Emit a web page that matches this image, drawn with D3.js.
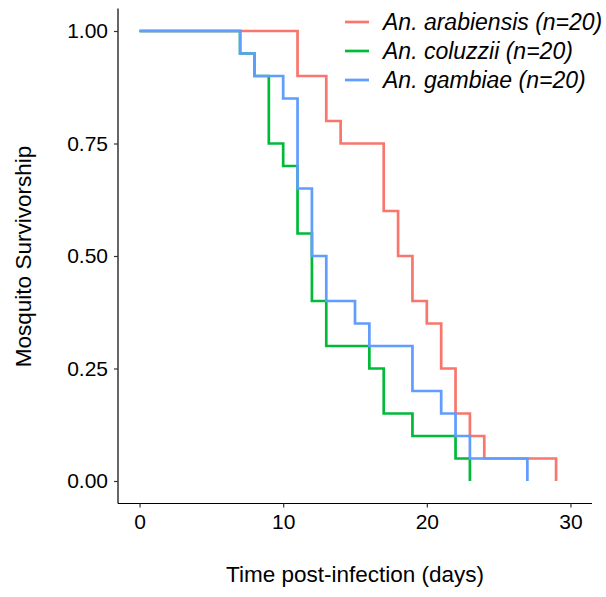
<!DOCTYPE html>
<html><head><meta charset="utf-8">
<script src="https://cdn.jsdelivr.net/npm/d3@7"></script>
<style>body{margin:0;background:#fff;} text{font-family:"Liberation Sans",Arial,sans-serif;}</style>
</head><body>
<svg id="chart" width="606" height="597"></svg>
<script>
const seriesNames = ["An. arabiensis (n=20)", "An. coluzzii (n=20)", "An. gambiae (n=20)"];
const seriesColors = ["#F8766D", "#00BA38", "#619CFF"];
// step times and survival after each step
const arabiensisTime = [0, 11, 13, 14, 17, 18, 19, 20, 21, 22, 23, 24, 29];
const arabiensisSurv = [1.00, 0.90, 0.80, 0.75, 0.60, 0.50, 0.40, 0.35, 0.25, 0.15, 0.10, 0.05, 0.00];
const coluzziiTime = [0, 7, 8, 9, 10, 11, 12, 13, 16, 17, 19, 22, 23];
const coluzziiSurv = [1.00, 0.95, 0.90, 0.75, 0.70, 0.55, 0.40, 0.30, 0.25, 0.15, 0.10, 0.05, 0.00];
const gambiaeTime = [0, 7, 8, 10, 11, 12, 13, 15, 16, 19, 21, 22, 23, 27];
const gambiaeSurv = [1.00, 0.95, 0.90, 0.85, 0.65, 0.50, 0.40, 0.35, 0.30, 0.20, 0.15, 0.10, 0.05, 0.00];
const xTicks = [0, 10, 20, 30];
const yTicks = [0, 0.25, 0.5, 0.75, 1];

const series = [
  {name: seriesNames[0], color: seriesColors[0], t: arabiensisTime, s: arabiensisSurv},
  {name: seriesNames[1], color: seriesColors[1], t: coluzziiTime, s: coluzziiSurv},
  {name: seriesNames[2], color: seriesColors[2], t: gambiaeTime, s: gambiaeSurv}
];

const svg = d3.select("#chart");
const pLeft = 118, pRight = 592, pTop = 8.5, pBottom = 503.5;
const x = d3.scaleLinear().domain([-1.5, 31.5]).range([pLeft, pRight]);
const y = d3.scaleLinear().domain([-0.05, 1.05]).range([pBottom, pTop]);

const line = d3.line().x(d => x(d[0])).y(d => y(d[1])).curve(d3.curveStepAfter);
series.forEach(sr => {
  const pts = sr.t.map((t, i) => [t, sr.s[i]]);
  svg.append("path").datum(pts).attr("d", line)
    .attr("fill", "none").attr("stroke", sr.color).attr("stroke-width", 2.7)
    .attr("stroke-linejoin", "miter");
});

// axes
const xAxis = d3.axisBottom(x).tickValues(xTicks).tickSize(4).tickPadding(7).tickFormat(d3.format("d"));
const gx = svg.append("g").attr("transform", `translate(0,${pBottom})`).call(xAxis);
gx.select(".domain").attr("d", `M${pLeft},0H${pRight}`).attr("stroke", "#000").attr("stroke-width", 1.2);
gx.selectAll(".tick line").attr("stroke", "#333").attr("stroke-width", 1.2);
gx.selectAll(".tick text").attr("font-size", 21).attr("fill", "#000").attr("font-family", "Liberation Sans, Arial, sans-serif");

const yAxis = d3.axisLeft(y).tickValues(yTicks).tickSize(4).tickPadding(6).tickFormat(d3.format(".2f"));
const gy = svg.append("g").attr("transform", `translate(${pLeft},0)`).call(yAxis);
gy.select(".domain").attr("d", `M0,${pTop}V${pBottom}`).attr("stroke", "#000").attr("stroke-width", 1.2);
gy.selectAll(".tick line").attr("stroke", "#333").attr("stroke-width", 1.2);
gy.selectAll(".tick text").attr("font-size", 21).attr("fill", "#000").attr("font-family", "Liberation Sans, Arial, sans-serif");

// axis titles
svg.append("text").attr("x", 355).attr("y", 582)
  .attr("text-anchor", "middle").attr("font-size", 22.5).attr("fill", "#000")
  .text("Time post-infection (days)");
svg.append("text").attr("transform", `translate(31,256.5) rotate(-90)`)
  .attr("text-anchor", "middle").attr("font-size", 22.5).attr("fill", "#000")
  .text("Mosquito Survivorship");

// legend
const lg = svg.append("g");
series.forEach((sr, i) => {
  const yy = 22 + i * 29;
  lg.append("line").attr("x1", 345).attr("x2", 369).attr("y1", yy).attr("y2", yy)
    .attr("stroke", sr.color).attr("stroke-width", 2.7);
  lg.append("text").attr("x", 383).attr("y", yy + 8).attr("font-size", 23)
    .attr("font-style", "italic").attr("fill", "#000").text(sr.name);
});
</script>
</body></html>
